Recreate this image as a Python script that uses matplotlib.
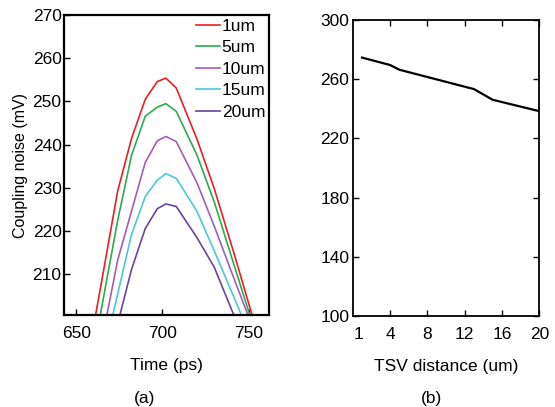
import matplotlib
matplotlib.use("Agg")
import matplotlib.pyplot as plt

plt.rcParams['font.family'] = ['Liberation Sans', 'DejaVu Sans']

# Panel (a): coupling noise vs time
time_ps = [655, 665, 674, 682, 690, 697, 702, 708, 720, 730, 742, 755]
noise_1um = [187.0, 209.1, 229.3, 241.4, 250.5, 254.6, 255.4, 253.1, 241.3, 229.9, 214.2, 196.5]
noise_5um = [181.3, 203.0, 222.5, 237.5, 246.6, 248.7, 249.5, 247.7, 237.6, 226.8, 211.6, 195.1]
noise_10um = [172.0, 195.1, 213.3, 224.6, 235.9, 240.9, 241.9, 240.7, 231.2, 221.2, 208.5, 195.0]
noise_15um = [173.2, 190.2, 205.5, 219.2, 228.0, 231.8, 233.3, 232.2, 224.6, 215.5, 204.2, 191.8]
noise_20um = [169.5, 184.8, 198.6, 211.1, 220.6, 225.2, 226.3, 225.7, 218.5, 211.7, 200.0, 187.0]
series_labels = ['1um', '5um', '10um', '15um', '20um']
series_colors = ['#f01c24', '#2eaa4e', '#a55bb8', '#4cc8d6', '#6a44a0']

# Panel (b): coupling noise vs TSV distance
tsv_distance = [1, 4, 5, 13, 15, 20]
tsv_noise = [274.6, 269.6, 266.4, 253.3, 246.1, 238.4]
b_xtick_pos = [0.6, 4, 8, 12, 16, 20]
b_xtick_labels = ['1', '4', '8', '12', '16', '20']
b_yticks = [100, 140, 180, 220, 260, 300]

fig = plt.figure(figsize=(5.55, 4.07), dpi=100)
fs = 12.5

# ---------- (a) ----------
ax1 = fig.add_axes([64.3/555, 1-315/407, 205/555, 300/407])
for vals, lab, col in zip([noise_1um, noise_5um, noise_10um, noise_15um, noise_20um],
                          series_labels, series_colors):
    ax1.plot(time_ps, vals, color=col, lw=1.2, label=lab)
ax1.set_xlim(643, 762)
ax1.set_ylim(200.6, 270)
ax1.set_xticks([650, 700, 750])
ax1.set_yticks([210, 220, 230, 240, 250, 260, 270])
ax1.tick_params(direction='in', labelsize=fs, length=4, width=1)
ax1.tick_params(axis='x', pad=8)
ax1.tick_params(axis='y', pad=2)
for s in ax1.spines.values():
    s.set_linewidth(1.6)
ax1.set_xlabel('Time (ps)', fontsize=fs, labelpad=12)
ax1.set_ylabel('Coupling noise (mV)', fontsize=11.5, labelpad=3)
leg = ax1.legend(loc='upper right', frameon=False, fontsize=fs, handlelength=1.35,
                 handletextpad=0.12, labelspacing=0.36, borderaxespad=0.12,
                 borderpad=0.1)
fig.text(145/555, 1-398/407, '(a)', ha='center', va='center', fontsize=fs)

# ---------- (b) ----------
ax2 = fig.add_axes([352.7/555, 1-316/407, 186.6/555, 296/407])
ax2.plot(tsv_distance, tsv_noise, color='black', lw=1.6)
ax2.set_xlim(0, 20)
ax2.set_ylim(100, 300)
ax2.set_xticks(b_xtick_pos)
ax2.set_xticklabels(b_xtick_labels)
ax2.set_yticks(b_yticks)
ax2.tick_params(direction='in', labelsize=fs, length=4, width=1,
                top=True, right=True)
ax2.tick_params(axis='x', pad=8)
ax2.tick_params(axis='y', pad=2.5)
t0 = ax2.xaxis.get_major_ticks()[0]
t0.tick1line.set_visible(False)
t0.tick2line.set_visible(False)
for s in ax2.spines.values():
    s.set_linewidth(1.3)
ax2.set_xlabel('TSV distance (um)', fontsize=fs, labelpad=12)
fig.text(432/555, 1-398/407, '(b)', ha='center', va='center', fontsize=fs)

fig.savefig('out.png', dpi=100)
